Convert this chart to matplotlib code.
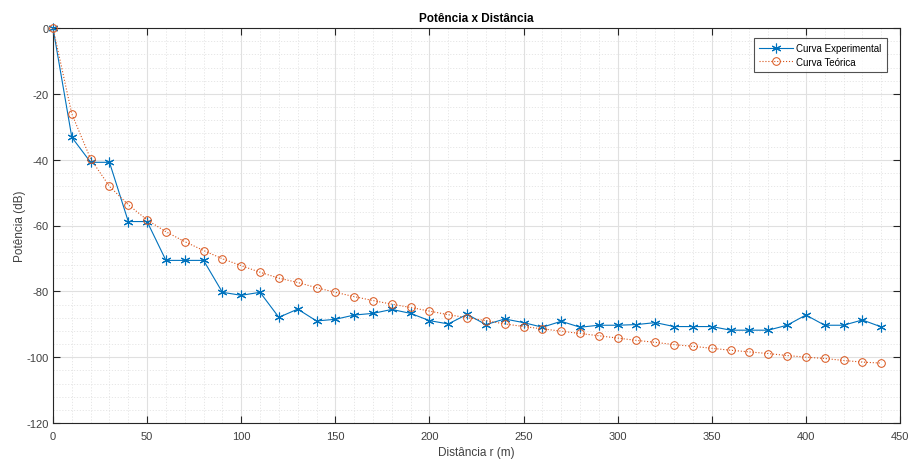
import matplotlib
matplotlib.use("Agg")
import matplotlib.pyplot as plt
from matplotlib.ticker import MultipleLocator

plt.rcParams['font.family'] = ['Liberation Sans', 'DejaVu Sans']
plt.rcParams['axes.unicode_minus'] = False

# Distances (m)
distancia = list(range(0, 450, 10))

# Measured power (dB)
potencia_exp = [0.0, -33.2, -40.8, -40.8, -58.8, -58.8, -70.6, -70.6, -70.6,
                -80.3, -81.2, -80.3, -87.9, -85.4, -89.0, -88.5, -87.2, -86.7,
                -85.5, -86.7, -88.9, -89.9, -87.0, -90.1, -88.4, -89.5, -90.9,
                -89.1, -90.9, -90.3, -90.3, -90.1, -89.5, -90.7, -90.7, -90.7,
                -91.8, -91.8, -91.8, -90.3, -87.2, -90.3, -90.3, -88.7, -90.8]

# Theoretical power (dB)
potencia_teo = [0.0, -26.1, -39.8, -48.1, -53.7, -58.3, -61.9, -64.9, -67.6,
                -70.1, -72.2, -74.2, -76.0, -77.3, -78.9, -80.3, -81.6, -82.8,
                -83.9, -84.9, -86.0, -87.1, -88.0, -88.9, -89.9, -90.7, -91.4,
                -92.1, -92.8, -93.5, -94.2, -94.9, -95.5, -96.2, -96.7, -97.3,
                -97.9, -98.4, -98.9, -99.5, -100.0, -100.4, -101.0, -101.5, -101.8]

azul = '#0072BD'
laranja = '#D95319'
cinza = '#262626'
texto = '#404040'

fig = plt.figure(figsize=(9.08, 4.6), dpi=100)
ax = fig.add_axes([53 / 908, 1 - 424 / 460, 847 / 908, 395 / 460])

# asterisk-shaped marker
asterisco = (6, 2, 0)

ax.plot(distancia, potencia_exp, color=azul, linestyle='-', linewidth=0.8,
        marker=asterisco, markersize=7, markeredgewidth=0.8,
        label='Curva Experimental', clip_on=False, zorder=3)
ax.plot(distancia, potencia_teo, color=laranja, linestyle=':', linewidth=0.8,
        marker='o', markersize=5.5, markerfacecolor='none', markeredgewidth=0.7,
        label='Curva Teórica', clip_on=False, zorder=3)

ax.set_xlim(0, 450)
ax.set_ylim(-120, 0)
ax.xaxis.set_major_locator(MultipleLocator(50))
ax.xaxis.set_minor_locator(MultipleLocator(10))
ax.yaxis.set_major_locator(MultipleLocator(20))
ax.yaxis.set_minor_locator(MultipleLocator(4))

ax.grid(which='major', color='#e0e0e0', linewidth=0.8, linestyle='-')
ax.grid(which='minor', color='#e3e3e3', linewidth=0.6, linestyle=(0, (1.5, 2)))
ax.set_axisbelow(True)

ax.tick_params(which='major', direction='in', length=5, width=0.8,
               top=True, right=True, color=cinza, labelcolor=texto,
               labelsize=8)
ax.tick_params(axis='x', which='major', pad=6)
ax.tick_params(axis='y', which='major', pad=3)
ax.tick_params(which='minor', length=0, top=True, right=True)
for s in ax.spines.values():
    s.set_color(cinza)
    s.set_linewidth(0.8)

ax.set_title('Potência x Distância', fontsize=8.5, fontweight='bold',
             color='black', pad=5)
ax.set_xlabel('Distância r (m)', fontsize=8.5, color=texto, labelpad=3.5)
ax.set_ylabel('Potência (dB)', fontsize=8.5, color=texto, labelpad=0.5)

leg = ax.legend(loc='upper right', fontsize=7, frameon=True, fancybox=False,
                edgecolor=cinza, bbox_to_anchor=(1 - 13 / 847, 1 - 10 / 395),
                borderaxespad=0, handlelength=3.4, handletextpad=0.4,
                borderpad=0.55, labelspacing=0.35)
leg.get_frame().set_linewidth(0.8)
leg.set_zorder(5)

fig.savefig('out.png', dpi=100, facecolor='white')
